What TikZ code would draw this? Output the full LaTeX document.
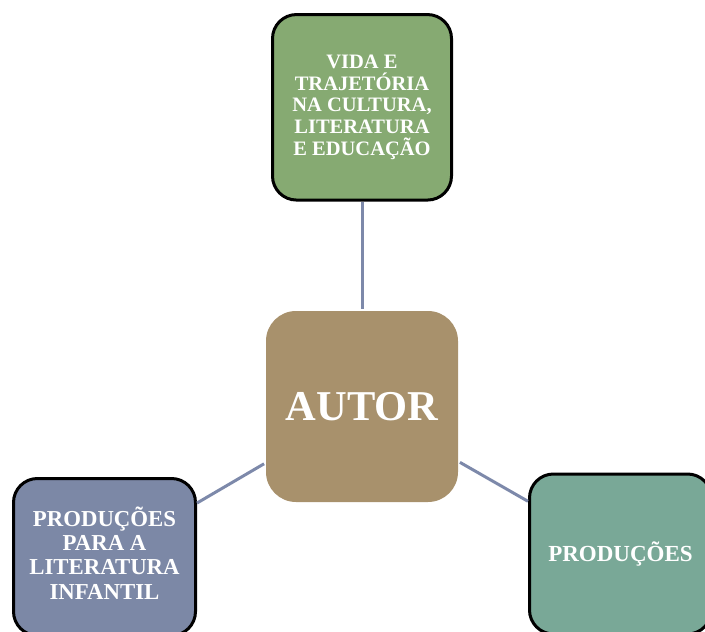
\documentclass[tikz,border=0pt]{standalone}
\usepackage{fontspec}
\setmainfont{Liberation Serif}
\definecolor{vidagreen}{HTML}{86AA72}
\definecolor{autorbrown}{HTML}{A8916C}
\definecolor{infantilblue}{HTML}{7C88A6}
\definecolor{prodteal}{HTML}{79A897}
\definecolor{linkblue}{HTML}{7D89AA}
\tikzset{
  topicbox/.style={draw=black, line width=3pt, rounded corners=24pt,
    text=white, align=center, inner sep=0pt},
  hubbox/.style={rounded corners=30pt, text=white, inner sep=0pt},
  boxtext/.style={text=white, align=center, inner sep=0pt},
  link/.style={draw=linkblue, line width=3pt}
}
\begin{document}
\begin{tikzpicture}[x=1pt,y=-1pt]
\useasboundingbox (0,0) rectangle (705,632);
\clip (0,0) rectangle (705,632);
\node[hubbox, fill=autorbrown, minimum width=192pt, minimum height=191pt,
  font=\fontsize{42.5}{48}\selectfont\bfseries] (autor) at (362,406.5) {AUTOR};
\node[topicbox, fill=vidagreen, minimum width=179pt, minimum height=185.5pt,
  font=\fontsize{20.5}{21.9}\selectfont\bfseries] (vida) at (362,107.3)
  {VIDA E\\TRAJETÓRIA\\NA CULTURA,\\LITERATURA\\E EDUCAÇÃO};
\node[topicbox, fill=infantilblue, minimum width=182pt, minimum height=157pt]
  (infantil) at (104.5,557) {};
\node[boxtext, font=\fontsize{22.8}{24.3}\selectfont\bfseries]
  (infantiltext) at ([yshift=4.2pt]infantil.center)
  {PRODUÇÕES\\PARA A\\LITERATURA\\INFANTIL};
\node[topicbox, fill=prodteal, minimum width=182pt, minimum height=160pt,
  font=\fontsize{23}{24}\selectfont\bfseries] (producoes) at (620.5,554)
  {PRODUÇÕES};
\draw[link, shorten <=2pt] (autor) -- (vida);
\draw[link, shorten <=2pt] (autor) -- (infantil);
\draw[link, shorten <=2pt] (autor) -- (producoes);
\end{tikzpicture}
\end{document}
